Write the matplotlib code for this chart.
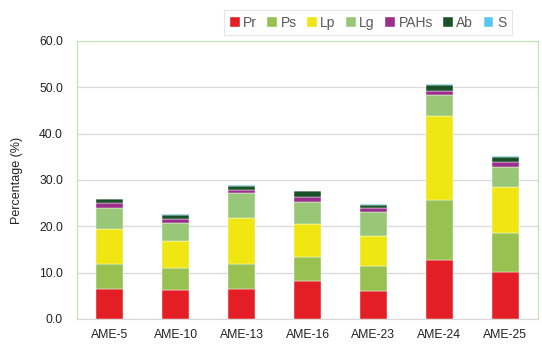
import matplotlib
matplotlib.use("Agg")
import matplotlib.pyplot as plt
import numpy as np

plt.rcParams['font.family'] = ['Liberation Sans', 'DejaVu Sans']

categories = ["AME-5", "AME-10", "AME-13", "AME-16", "AME-23", "AME-24", "AME-25"]
Pr   = [6.5, 6.3, 6.5, 8.3, 6.1, 12.7, 10.1]
Ps   = [5.4, 4.8, 5.4, 5.1, 5.4, 13.0, 8.4]
Lp   = [7.5, 5.7, 10.0, 7.2, 6.5, 18.0, 10.0]
Lg   = [4.6, 3.9, 5.3, 4.6, 5.1, 4.6, 4.3]
PAHs = [1.0, 0.9, 0.6, 1.1, 0.8, 0.9, 1.1]
Ab   = [0.8, 0.9, 1.0, 1.3, 0.8, 1.2, 1.1]
S    = [0.15, 0.2, 0.15, 0.1, 0.15, 0.2, 0.15]

series = [("Pr", Pr, "#E31E24"), ("Ps", Ps, "#97C151"), ("Lp", Lp, "#F0E611"),
          ("Lg", Lg, "#98C777"), ("PAHs", PAHs, "#9B2F8C"), ("Ab", Ab, "#1B5128"),
          ("S", S, "#5BC5F2")]

fig = plt.figure(figsize=(5.42, 3.44), dpi=100)
ax = fig.add_axes([0.142, 0.0727, 0.8506, 0.8083])

x = np.arange(len(categories))
bottom = np.zeros(len(categories))
handles = []
for name, vals, col in series:
    b = ax.bar(x, vals, width=0.41, bottom=bottom, color=col, label=name,
               edgecolor='white', linewidth=0.3, zorder=3)
    handles.append(b)
    bottom += np.array(vals)

ax.set_xlim(-0.5, len(categories) - 0.5)
ax.set_ylim(0, 60)
ax.set_yticks(np.arange(0, 61, 10))
ax.set_yticklabels([f"{v:.1f}" for v in np.arange(0, 61, 10)])
ax.set_xticks(x)
ax.set_xticklabels(categories)
ax.tick_params(axis='both', length=0, labelsize=8.8, colors='#222222')
ax.tick_params(axis='y', pad=10)
ax.tick_params(axis='x', pad=7)
ax.yaxis.grid(True, color='#D9D9D9', linewidth=0.9, zorder=0)
ax.set_axisbelow(True)
for s in ['left', 'right', 'top']:
    ax.spines[s].set_color('#C6E2B9')
    ax.spines[s].set_linewidth(0.9)
ax.spines['bottom'].set_color('#D9D9D9')
ax.spines['bottom'].set_linewidth(0.9)

ax.set_ylabel("Percentage (%)", fontsize=9, color='#222222', labelpad=12)

leg = fig.legend(handles=handles, loc='upper right', bbox_to_anchor=(0.957, 0.990),
                 ncol=7, frameon=True, fancybox=False, fontsize=10,
                 handlelength=0.7, handleheight=0.7, handletextpad=0.25,
                 columnspacing=0.75, borderpad=0.4, labelcolor='#595959')
leg.get_frame().set_edgecolor('#E0E0E0')
leg.get_frame().set_linewidth(0.8)

fig.savefig("out.png", dpi=100)
